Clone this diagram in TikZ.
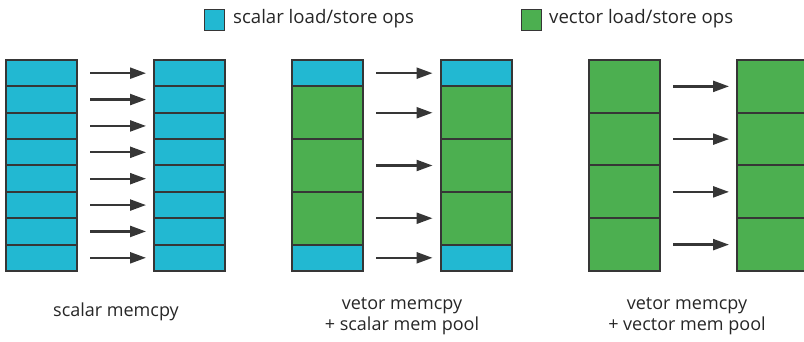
\documentclass[tikz,border=0pt]{standalone}
\usepackage{fontspec}
\setmainfont{Open Sans}
\usetikzlibrary{arrows.meta}

\definecolor{scalarblue}{HTML}{22B8D2}
\definecolor{vectorgreen}{HTML}{4CAF50}
\definecolor{edgegray}{HTML}{363636}
\definecolor{textgray}{HTML}{262626}

\tikzset{
  cell/.style={draw=edgegray, line width=2pt, minimum width=71pt, inner sep=0pt, outer sep=0pt},
  scell/.style={cell, fill=scalarblue},
  vcell/.style={cell, fill=vectorgreen},
  copyarrow/.style={draw=edgegray, line width=2.3pt, -{Triangle[length=16pt,width=11pt]},
                    shorten <=13pt, shorten >=8pt},
  legendbox/.style={draw=edgegray, line width=1.8pt, minimum width=20pt, minimum height=21pt, inner sep=0pt},
  lbl/.style={font=\fontsize{18}{21}\selectfont, text=textgray, inner sep=0pt, align=center},
}

\begin{document}
\begin{tikzpicture}[x=1pt, y=-1pt]
  \useasboundingbox (0,0) rectangle (804,342);

  % legend
  \node[legendbox, fill=scalarblue] (keyscalar) at (214.5,20) {};
  \node[lbl, anchor=west, font=\fontsize{18.6}{21}\selectfont] (keyscalartext) at (233,19) {scalar load/store ops};
  \node[legendbox, fill=vectorgreen] (keyvector) at (531.5,20) {};
  \node[lbl, anchor=west, font=\fontsize{18.6}{21}\selectfont] (keyvectortext) at (549,19) {vector load/store ops};

  % scalar memcpy: 8 scalar cells per column
  \foreach \i in {1,...,8} {
    \pgfmathsetmacro{\cy}{60 + 26.375*(\i-0.5)}
    \node[scell, minimum height=26.375pt] (pa\i) at (41.5,\cy) {};
    \node[scell, minimum height=26.375pt] (pb\i) at (189.5,\cy) {};
  }
  \foreach \i in {1,...,8} {
    \draw[copyarrow] (pa\i) -- (pb\i);
  }

  % vector memcpy + scalar mem pool: scalar head and tail, vector body
  \foreach \i/\cy/\h/\kind in {1/73.1875/26.375/scell,
                               2/112.75/52.75/vcell,
                               3/165.5/52.75/vcell,
                               4/218.25/52.75/vcell,
                               5/257.8125/26.375/scell} {
    \node[\kind, minimum height=\h pt] (qa\i) at (327.5,\cy) {};
    \node[\kind, minimum height=\h pt] (qb\i) at (476,\cy) {};
  }
  \foreach \i in {1,...,5} {
    \draw[copyarrow] (qa\i) -- (qb\i);
  }

  % vector memcpy + vector mem pool: 4 vector cells per column
  \foreach \i in {1,...,4} {
    \pgfmathsetmacro{\cy}{60 + 52.75*(\i-0.5)}
    \node[vcell, minimum height=52.75pt] (ra\i) at (624.5,\cy) {};
    \node[vcell, minimum height=52.75pt] (rb\i) at (772.5,\cy) {};
  }
  \foreach \i in {1,...,4} {
    \draw[copyarrow] (ra\i) -- (rb\i);
  }

  % captions
  \node[lbl] (capscalar) at (116,312) {scalar memcpy};
  \node[lbl] (capmixed) at (402,316) {vetor memcpy\\+ scalar mem pool};
  \node[lbl] (capvector) at (687,316) {vetor memcpy\\+ vector mem pool};
\end{tikzpicture}
\end{document}
